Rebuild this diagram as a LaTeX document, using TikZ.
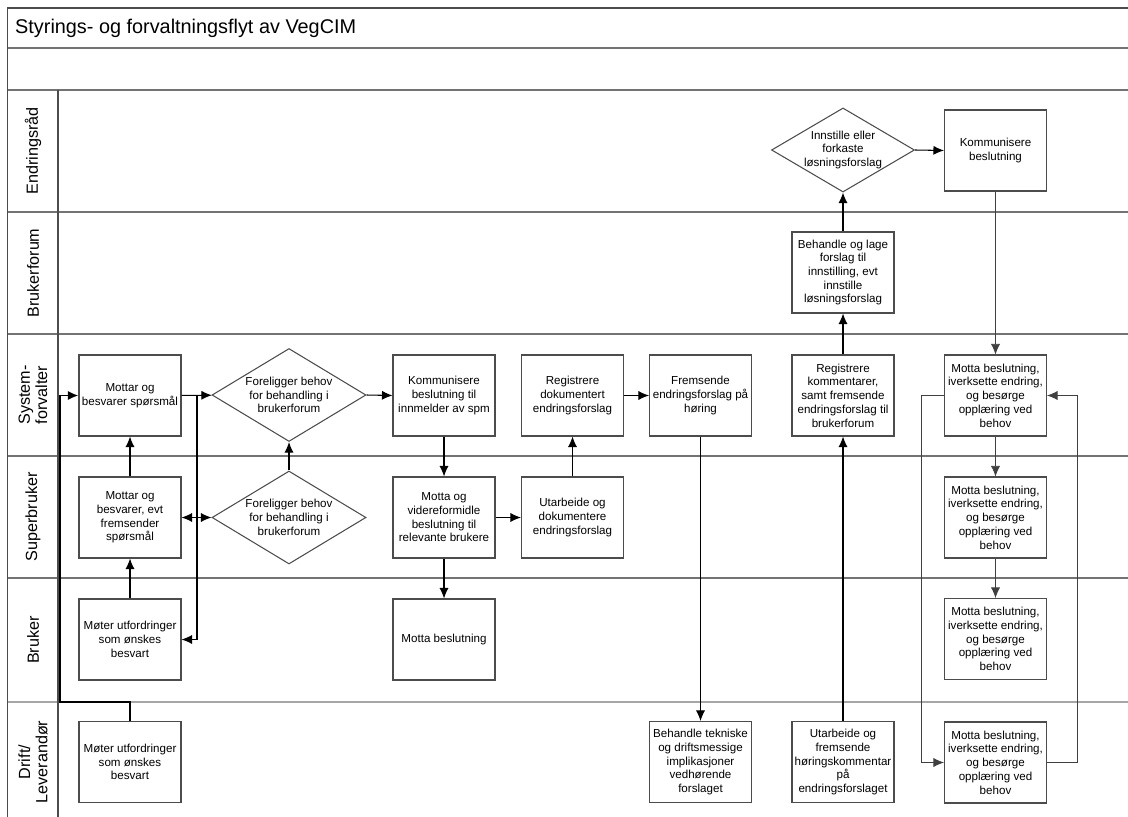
\documentclass[tikz,border=0pt]{standalone}
\usepackage{fontspec}
\setmainfont{Liberation Sans}
\usetikzlibrary{shapes}
\usetikzlibrary{arrows.meta}
\usetikzlibrary{positioning}
\tikzstyle{line} = [draw, line width=0.6pt, -{Latex[length=6pt, width=5.2pt]}]
\tikzstyle{thinline} = [draw, line width=0.4pt, black!75, -{Latex[length=6pt, width=5.2pt]}]

\begin{document}
\begin{tikzpicture}[x=0.02cm, y=-0.02cm,
		lane/.style = {draw=black!55, line width=0.8pt},
		task/.style = {rectangle, draw=black!70, line width=0.6pt,
			minimum width = 2.04cm, minimum height = 1.62cm,
			inner sep=1pt, align=center,
			font=\fontsize{6.6}{7.8}\selectfont},
		choice/.style = {diamond, draw=black!70, line width=0.6pt,
			aspect=1.66, minimum width = 3.08cm, minimum height = 1.86cm,
			inner sep=0pt, align=center,
			font=\fontsize{6.6}{7.8}\selectfont},
		lanename/.style = {rotate=90, align=center,
			font=\fontsize{9.2}{9.8}\selectfont}]
		
		\useasboundingbox (0,0) rectangle (1128,817);
		
		% Frame and lanes
		\draw[lane, black!70] (7.5,817) -- (7.5,8) -- (1128,8);
		\draw[lane] (7.5,48) -- (1128,48);
		\draw[lane] (7.5,90) -- (1128,90);
		\draw[lane] (7.5,212) -- (1128,212);
		\draw[lane] (7.5,334) -- (1128,334);
		\draw[lane] (7.5,456) -- (1128,456);
		\draw[lane] (7.5,578) -- (1128,578);
		\draw[lane, black!35] (7.5,702) -- (1128,702);
		\draw[lane, black!70] (58,90) -- (58,817);
		
		\node[anchor=west, font=\fontsize{11.3}{13}\selectfont] (title) at (9,28) {Styrings- og forvaltningsflyt av VegCIM};
		
		% Lane names
		\node[lanename] (er) at (33,151) {Endringsråd};
		\node[lanename] (bf) at (33,273) {Brukerforum};
		\node[lanename] (sf) at (33,395) {System-\\forvalter};
		\node[lanename] (sb) at (33,517) {Superbruker};
		\node[lanename] (br) at (33,640) {Bruker};
		\node[lanename] (dl) at (33,762) {Drift/\\Leverandør};
		
		% Questions
		\node[task] (sfq) at (130,395.5) {Mottar og\\besvarer spørsmål};
		\node[task] (sbq) at (130,517.5) {Mottar og\\besvarer, evt\\fremsender\\spørsmål};
		\node[task] (bq) at (130,639.5) {Møter utfordringer\\som ønskes\\besvart};
		\node[task] (dq) at (130,762) {Møter utfordringer\\som ønskes\\besvart};
		
		% Decisions
		\node[choice] (sfdec) at (289,395) {Foreligger behov\\for behandling i\\brukerforum};
		\node[choice] (sbdec) at (289,517.5) {Foreligger behov\\for behandling i\\brukerforum};
		
		% Answer
		\node[task] (sfkom) at (444,395.5) {Kommunisere\\beslutning til\\innmelder av spm};
		\node[task] (sbvid) at (444,517.5) {Motta og\\videreformidle\\beslutning til\\relevante brukere};
		\node[task] (bmot) at (444,639.5) {Motta beslutning};
		
		% Change proposal
		\node[task] (sfreg) at (572.5,395.5) {Registrere\\dokumentert\\endringsforslag};
		\node[task] (sbutarb) at (572.5,517.5) {Utarbeide og\\dokumentere\\endringsforslag};
		\node[task] (sffrem) at (700.5,395.5) {Fremsende\\endringsforslag på\\høring};
		\node[task] (dbeh) at (700.5,762) {Behandle tekniske\\og driftsmessige\\implikasjoner\\vedhørende\\forslaget};
		\node[task] (dutarb) at (843,762) {Utarbeide og\\fremsende\\høringskommentar\\på\\endringsforslaget};
		\node[task] (sfregkom) at (843,395.5) {Registrere\\kommentarer,\\samt fremsende\\endringsforslag til\\brukerforum};
		\node[task] (bfbeh) at (843,272.5) {Behandle og lage\\forslag til\\innstilling, evt\\innstille\\løsningsforslag};
		\node[choice, aspect=1.7, minimum width=2.64cm, minimum height=1.56cm] (erdec) at (843,150) {Innstille eller\\forkaste\\løsningsforslag};
		\node[task] (erkom) at (995.5,150.5) {Kommunisere\\beslutning};
		
		% Implementation
		\node[task] (sfimpl) at (995.5,395.5) {Motta beslutning,\\iverksette endring,\\og besørge\\opplæring ved\\behov};
		\node[task] (sbimpl) at (995.5,517.5) {Motta beslutning,\\iverksette endring,\\og besørge\\opplæring ved\\behov};
		\node[task] (bimpl) at (995.5,639) {Motta beslutning,\\iverksette endring,\\og besørge\\opplæring ved\\behov};
		\node[task] (dimpl) at (995.5,762.5) {Motta beslutning,\\iverksette endring,\\og besørge\\opplæring ved\\behov};
		
		% Bends
		\coordinate (dbend) at (60,702);
		\coordinate (sfbranch) at (197,395.5);
		\coordinate (loopl) at (921,395.5);
		\coordinate (loopr) at (1077,762.5);
		
		% Connectors
		\draw[line, line width=1.1pt] (dq.north) |- (dbend) |- (sfq.west);
		\draw[line] (sbq) -- (sfq);
		\draw[line] (bq) -- (sbq);
		\draw[line] (sfq) -- (sfdec);
		\draw[line] (sfbranch) |- (bq.east);
		\draw[line, {Latex[length=6pt, width=5.2pt]}-{Latex[length=6pt, width=5.2pt]}] (sbq) -- (sbdec);
		\draw[line] (sbdec.north) -- (sfdec.south);
		\draw[line] (sfdec.east) -- (sfkom.west);
		\draw[line] (sfkom) -- (sbvid);
		\draw[line] (sbvid) -- (bmot);
		\draw[line] (sbvid) -- (sbutarb);
		\draw[line] (sbutarb) -- (sfreg);
		\draw[line] (sfreg) -- (sffrem);
		\draw[line] (sffrem) -- (dbeh);
		\draw[line] (dutarb) -- (sfregkom);
		\draw[line] (sfregkom) -- (bfbeh);
		\draw[line] (bfbeh) -- (erdec.south);
		\draw[line] (erdec.east) -- (erkom.west);
		\draw[thinline] (erkom) -- (sfimpl);
		\draw[thinline] (sfimpl) -- (sbimpl);
		\draw[thinline] (sbimpl) -- (bimpl);
		\draw[thinline] (sfimpl.west) -- (loopl) |- (dimpl.west);
		\draw[thinline] (dimpl.east) -- (loopr) |- (sfimpl.east);
	\end{tikzpicture}
\end{document}
